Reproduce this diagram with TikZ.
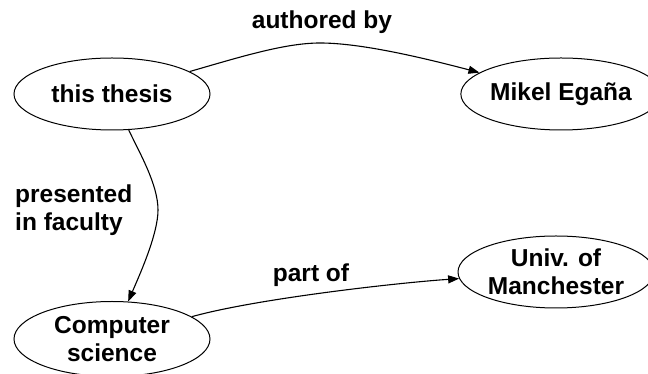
\documentclass[tikz,border=0pt]{standalone}
\usepackage{fontspec}
\setmainfont{Liberation Sans}
\usetikzlibrary{arrows.meta,shapes.geometric}
\begin{document}
\begin{tikzpicture}[x=1pt,y=1pt,
  concept/.style={draw, ellipse, line width=1pt, inner sep=0pt,
    minimum width=196pt, minimum height=72pt, align=center,
    font=\fontsize{24.5}{28}\bfseries\selectfont},
  rel/.style={draw, line width=1.1pt,
    -{Triangle[length=11pt,width=8pt]}},
  lbl/.style={font=\fontsize{24.5}{28}\bfseries\selectfont, inner sep=0pt}]
\clip (0,0) rectangle (648,374);

% concepts
\node[concept] (thesis) at (112,280) {this thesis};
\node[concept] (mikel)  at (561,280) {Mikel Egaña};
\node[concept, minimum height=75pt] (cs) at (112,35) {Computer\\science};
\node[concept] (univ)   at (556,102) {Univ. of\\Manchester};

% relations
\coordinate (ab) at (320,331);
\draw[rel] (thesis) .. controls (240,317) and (285,331) .. (ab)
                    .. controls (360,331) and (420,317) .. (mikel);

\coordinate (pf) at (158,164);
\draw[rel] (thesis) .. controls (139,222) and (158,190) .. (pf)
                    .. controls (158,140) and (140,100) .. (cs);

\draw[rel] (cs) .. controls (255,75) and (395,91) .. (univ);

% relation labels
\node[lbl, anchor=base] (lab) at (322,345) {authored by};
\node[lbl, anchor=base] (lpo) at (311,92) {part of};
\node[lbl, anchor=west, align=left] (lpf) at (15,164) {presented\\in faculty};
\end{tikzpicture}
\end{document}
